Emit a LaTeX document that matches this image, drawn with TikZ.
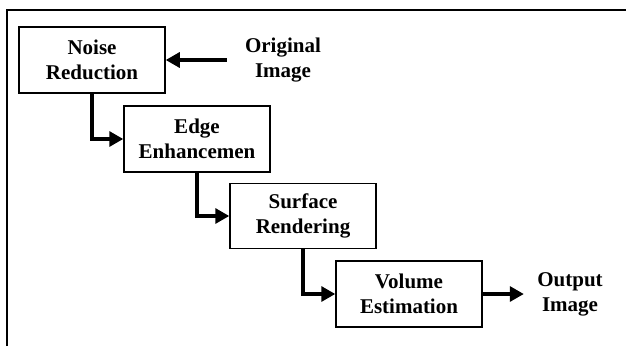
\documentclass[tikz,border=0pt]{standalone}
\usepackage{fontspec}
\setmainfont{Liberation Serif}
\usepackage{tikz}
\usetikzlibrary{arrows.meta}
\tikzstyle{stage}=[draw, line width=1.5pt, text centered, minimum width=146pt,
  minimum height=66pt, align=center, font=\fontsize{21}{25}\selectfont\bfseries]
\tikzstyle{texto}=[align=center, font=\fontsize{21}{25}\selectfont\bfseries]
\tikzstyle{flow}=[draw, line width=3.2pt, -{Triangle[length=14pt,width=15pt]}]
\tikzstyle{frame}=[draw, line width=2pt]

\begin{document}
\begin{tikzpicture}[x=1pt, y=-1pt]
  \useasboundingbox (0,0) rectangle (626,346);

  % Outer frame, cut at the right and bottom
  \path[frame] (7,346) -- (7,10) -- (626,10);

  % Draw diagram elements
  \path (92,60) node (noise) [stage] {Noise\\Reduction};
  \path (noise.center)+(105,79) node (edge) [stage] {Edge\\Enhancemen};
  \path (edge.center)+(106,77) node (surf) [stage, minimum height=65pt] {Surface\\Rendering};
  \path (surf.center)+(106,78) node (vol) [stage] {Volume\\Estimation};
  \path (283,60) node (orig) [texto] {Original\\Image};
  \path (570,294) node (out) [texto] {Output\\Image};

  % Draw arrows between elements
  \path [flow, shorten <=15pt] (orig.west) -- (noise.east);
  \path [flow] (noise.south) |- (edge.west);
  \path [flow] (edge.south) |- (surf.west);
  \path [flow] (surf.south) |- (vol.west);
  \path [flow, shorten >=10pt] (vol.east) -- (out.west);
\end{tikzpicture}
\end{document}
